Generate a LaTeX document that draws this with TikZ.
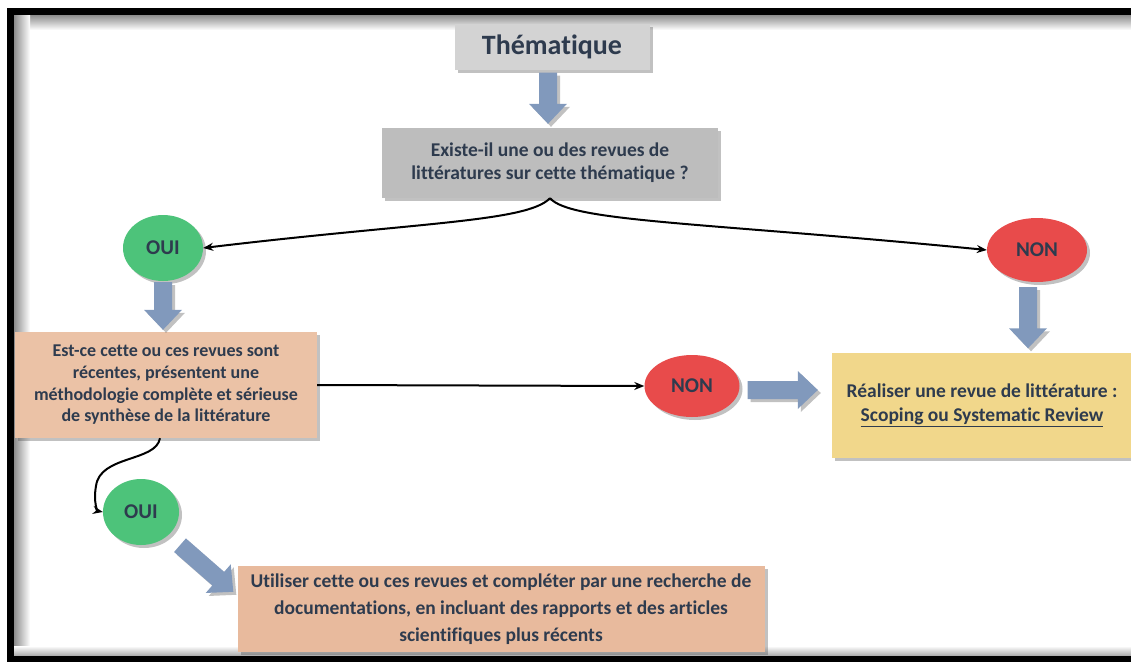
\documentclass[tikz,border=0pt]{standalone}
\usepackage{fontspec}
\setmainfont{Carlito}[Ligatures={NoCommon}]
\usetikzlibrary{calc,shapes.geometric,shadows,arrows.meta}
\definecolor{txt}{HTML}{2E3B4E}
\definecolor{grayA}{HTML}{D3D3D3}
\definecolor{grayB}{HTML}{BDBDBD}
\definecolor{peach}{HTML}{EBC2A6}
\definecolor{peachB}{HTML}{E8BA9D}
\definecolor{yel}{HTML}{F1D78B}
\definecolor{grn}{HTML}{4DC37A}
\definecolor{rd}{HTML}{E84B4B}
\definecolor{arrowc}{HTML}{8199BC}
\newcommand\fatarrow[2]{%
  \fill[fatarrow] ($(#1)!9pt!90:(#2)$) -- ($($(#2)!20pt!(#1)$)!9pt!90:(#2)$)
    -- ($($(#2)!20pt!(#1)$)!19pt!90:(#2)$) -- (#2)
    -- ($($(#2)!20pt!(#1)$)!19pt!-90:(#2)$) -- ($($(#2)!20pt!(#1)$)!9pt!-90:(#2)$)
    -- ($(#1)!9pt!-90:(#2)$) -- cycle;}
\begin{document}
\begin{tikzpicture}[x=1pt,y=-1pt,
  font=\bfseries\fontsize{19.5}{24}\selectfont, text=txt,
  shad/.style={drop shadow={opacity=0.35, shadow xshift=3pt, shadow yshift=-3pt, fill=black!70}},
  box/.style={rectangle, inner sep=0pt, align=center, shad},
  oval/.style={ellipse, inner sep=0pt, align=center, shad, font=\bfseries\fontsize{21}{24}\selectfont},
  conn/.style={-{Stealth[length=10pt,width=8pt]}, line width=2pt, black},
  fatarrow/.style={fill=arrowc, shad}]
\useasboundingbox (0,0) rectangle (1131,661);
% frame inner shadow
\shade[top color=black!45, bottom color=white] (14,15) rectangle (1131,30);
\shade[left color=black!45, right color=white] (14,15) rectangle (30,656);
\shade[top color=white, bottom color=black!35] (14,646) rectangle (1131,656);
\draw[line width=7pt, black] (1140,12) -- (10.5,12) -- (10.5,659) -- (1140,659);
% nodes
\node[box, fill=grayA, minimum width=195pt, minimum height=45pt,
      font=\bfseries\fontsize{28}{30}\selectfont] (them) at (552,47) {Thématique};
\node[box, fill=grayB, minimum width=336pt, minimum height=70pt,
      font=\bfseries\fontsize{19.5}{23}\selectfont] (q) at (550,163)
      {Existe-il une ou des revues de\\littératures sur cette thématique ?};
\node[oval, fill=grn, minimum width=80pt, minimum height=66pt] (oui1) at (163,248) {OUI};
\node[oval, fill=rd, minimum width=100pt, minimum height=64pt] (non1) at (1037,250) {NON};
\node[box, fill=peach, minimum width=302pt, minimum height=106pt,
      font=\bfseries\fontsize{18}{21.7}\selectfont] (p1) at (166,385)
      {Est-ce cette ou ces revues sont\\récentes, présentent une\\méthodologie complète et sérieuse\\de synthèse de la littérature};
\node[oval, fill=rd, minimum width=95pt, minimum height=62pt] (non2) at (692,386) {NON};
\node[box, fill=yel, minimum width=300pt, minimum height=105pt,
      font=\bfseries\fontsize{19.5}{24}\selectfont] (y) at (982,405)
      {Réaliser une revue de littérature :\\\underline{Scoping ou Systematic Review}};
\node[oval, fill=grn, minimum width=76pt, minimum height=66pt] (oui2) at (141,512) {OUI};
\node[box, fill=peachB, minimum width=527pt, minimum height=86pt,
      font=\bfseries\fontsize{19.5}{27}\selectfont] (p2) at (501,609)
      {Utiliser cette ou ces revues et compléter par une recherche de\\documentations, en incluant des rapports et des articles\\scientifiques plus récents};
% fat arrows
\coordinate (a1s) at ($(them.south)+(-4,3)$);
\coordinate (a1e) at ($(q.north)+(-2,-4)$);
\fatarrow{a1s}{a1e}
\coordinate (a2s) at ($(oui1.south)+(0,1)$);
\coordinate (a2e) at ($(p1.north -| oui1.south)+(0,-2)$);
\fatarrow{a2s}{a2e}
\coordinate (a3s) at ($(non1.south)+(-9,5)$);
\coordinate (a3e) at ($(y.north)+(46,-4)$);
\fatarrow{a3s}{a3e}
\coordinate (a4s) at ($(non2.east)+(8,4)$);
\coordinate (a4e) at ($(y.west)+(-14,-15)$);
\fatarrow{a4s}{a4e}
\coordinate (a5s) at ($(oui2.south)+(39,0)$);
\coordinate (a5e) at ($(p2.north west)+(-4,26)$);
\fatarrow{a5s}{a5e}
% connectors
\draw[conn] (q.south) .. controls (527,222) and (420,222) .. (oui1.east);
\draw[conn] (q.south) .. controls (571,222) and (700,222) .. (non1.west);
\draw[conn] (p1.east) -- (non2.west);
\draw[conn] ($(p1.south)+(-6,0)$) .. controls (156,462) and (100,455) .. (96,486)
  .. controls (93,503) and (98,511) .. (oui2.west);
\end{tikzpicture}
\end{document}
